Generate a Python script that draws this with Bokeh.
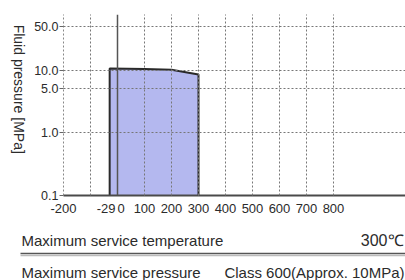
import math
from bokeh.plotting import figure
from bokeh.layouts import column, row
from bokeh.models import FixedTicker, Span, Range1d
from bokeh.core.properties import value
from bokeh.embed import file_html
from bokeh.resources import INLINE

# ---- data ----
temps = [-29, 100, 200, 300]            # service temperature (deg C)
pressures = [10.6, 10.4, 10.1, 8.5]     # allowed fluid pressure (MPa)
base_pressure = 0.1
x_ticks = [-200, -29, 0, 100, 200, 300, 400, 500, 600, 700, 800]
x_tick_labels = ["-200", "-29\u00a0\u00a0", "\u00a0\u00a00", "100", "200", "300",
                 "400", "500", "600", "700", "800"]
x_grid_ticks = [-100, 100, 200, 300, 400, 500, 600, 700, 800]
y_ticks = [0.1, 1.0, 5.0, 10.0, 50.0]
y_tick_labels = ["0.1", "1.0", "5.0", "10.0", "50.0"]
y_label = "Fluid pressure [MPa]"
row1_label, row1_value = "Maximum service temperature", "300\u2103"
row2_label, row2_value = "Maximum service pressure", "Class 600(Approx. 10MPa)"

W, H = 405, 280
TOP_H = 4          # header strip height
LBL_W = 30         # y-label strip width
MAIN_H = 214       # main chart height (page y 4..218)
BOT_H = H - TOP_H - MAIN_H
FL, FT, FB = 63, 14, 196   # frame left / top / bottom in page px
FONT = "Liberation Sans"
TXT = "#2b2b2b"


def blank(width, height, xr, yr):
    f = figure(width=width, height=height, output_backend="svg",
               toolbar_location=None, x_range=xr, y_range=yr,
               x_axis_location=None, y_axis_location=None,
               min_border=0)
    f.outline_line_color = None
    f.grid.visible = False
    f.background_fill_color = "white"
    f.border_fill_color = "white"
    return f


# ---- header strip ----
top = blank(W, TOP_H, Range1d(0, W), Range1d(TOP_H, 0))
top.quad(left=[30], right=[400], top=[0], bottom=[3],
         fill_color="#c6c9f1", line_color=None)

# ---- y label strip ----
lab = blank(LBL_W, MAIN_H, Range1d(0, LBL_W), Range1d(TOP_H + MAIN_H, TOP_H))
lab.text(x=[18], y=[16], text=[y_label], angle=-math.pi / 2,
         text_align="left", text_baseline="middle",
         text_font=value(FONT), text_font_size="14px", text_color=TXT)

# ---- main chart ----
p = figure(width=W - LBL_W, height=MAIN_H, output_backend="svg",
           toolbar_location=None, y_axis_type="log",
           x_range=Range1d(-200, -200 + (W - FL) / 0.27),
           y_range=Range1d(0.1, 77),
           min_border_left=FL - LBL_W, min_border_right=0,
           min_border_top=FT - TOP_H,
           min_border_bottom=TOP_H + MAIN_H - FB)
p.outline_line_color = None
p.background_fill_color = "white"
p.border_fill_color = "white"

xa = p.xaxis[0]
xa.ticker = FixedTicker(ticks=x_ticks)
xa.major_label_overrides = dict(zip(x_ticks, x_tick_labels))
xa.axis_line_color = "#4a4a4a"
xa.axis_line_width = 2
xa.major_tick_out = 0
xa.major_tick_in = 0
xa.minor_tick_line_color = None
xa.major_label_text_font = FONT
xa.major_label_text_font_size = "13px"
xa.major_label_text_color = TXT
xa.major_label_standoff = 5

ya = p.yaxis[0]
ya.ticker = FixedTicker(ticks=y_ticks)
ya.major_label_overrides = dict(zip(y_ticks, y_tick_labels))
ya.axis_line_color = "#888888"
ya.axis_line_dash = "2 2"
ya.major_tick_out = 4
ya.major_tick_in = 0
ya.major_tick_line_color = "#666666"
ya.minor_tick_line_color = None
ya.major_label_text_font = FONT
ya.major_label_text_font_size = "12.5px"
ya.major_label_text_color = TXT
ya.major_label_standoff = 1

p.xgrid.ticker = FixedTicker(ticks=x_grid_ticks)
p.ygrid.ticker = FixedTicker(ticks=[t for t in y_ticks if t != base_pressure])
for g in (p.xgrid[0], p.ygrid[0]):
    g.grid_line_color = "#777777"
    g.grid_line_dash = "2 2"
    g.grid_line_width = 1
    g.level = "guide"
p.ygrid.minor_grid_line_color = None

p.varea(x=temps, y1=[base_pressure] * len(temps), y2=pressures,
        fill_color="#b4b8ef", fill_alpha=1.0)
outline_x = [temps[0]] + temps + [temps[-1]]
outline_y = [base_pressure] + pressures + [base_pressure]
p.line(outline_x, outline_y, line_color="#2a2a2a", line_width=2)

p.add_layout(Span(location=0, dimension="height", line_color="#555555",
                  line_width=1.5, level="annotation"))

# ---- bottom info rows (y in page px) ----
y0 = TOP_H + MAIN_H
bot = blank(W, BOT_H, Range1d(0, W), Range1d(H, y0))
bot.text(x=[21, 21], y=[240, 272], text=[row1_label, row2_label],
         text_align="left", text_baseline="middle",
         text_font=value(FONT), text_font_size="15px", text_color=TXT)
bot.text(x=[403], y=[240], text=[row1_value],
         text_align="right", text_baseline="middle",
         text_font=value(FONT), text_font_size="16px", text_color=TXT)
bot.text(x=[404], y=[272], text=[row2_value],
         text_align="right", text_baseline="middle",
         text_font=value(FONT), text_font_size="15px", text_color=TXT)
bot.segment(x0=[20], y0=[253], x1=[405], y1=[253], line_color="#555555", line_width=1.5)
bot.segment(x0=[20], y0=[255], x1=[405], y1=[255], line_color="#bbbbbb", line_width=1.5)

layout = column(top, row(lab, p, spacing=0), bot, spacing=0)
open("out.html", "w").write(file_html(layout, INLINE))
